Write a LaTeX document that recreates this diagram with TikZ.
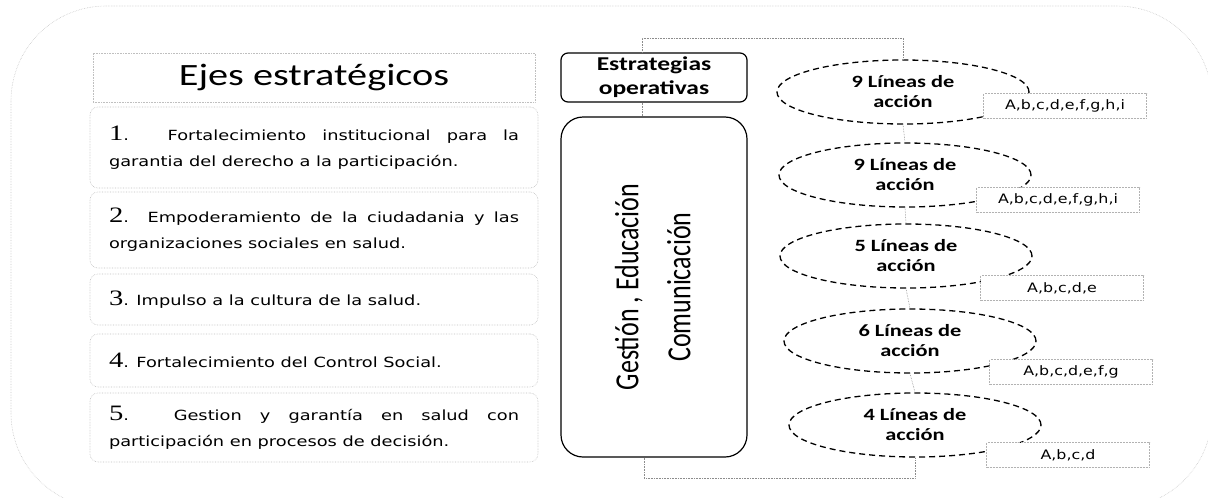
\documentclass[tikz,border=0pt]{standalone}
\usepackage{fontspec}
\usepackage{graphicx}
\usetikzlibrary{shapes.geometric}
\setlength{\parindent}{0pt}
\newfontfamily\calib[FakeStretch=1.3]{Carlito}
\newfontfamily\calibrot{Carlito}
\newfontfamily\ejefont[FakeStretch=1.27]{DejaVu Sans}
\newfontfamily\letrafont[FakeStretch=1.22]{DejaVu Sans}
\newfontfamily\numfont[FakeStretch=1.3]{Liberation Serif}
\newcommand{\ejenum}[1]{{\numfont\fontsize{22}{22}\selectfont #1}}

\begin{document}
\begin{tikzpicture}[x=1pt, y=-1pt,
    marco/.style={draw=black!22, densely dotted, line width=0.6pt, rounded corners=95pt},
    eje/.style={draw=black!25, densely dotted, line width=0.6pt, rounded corners=8pt, minimum width=448pt, text width=410pt, inner sep=0pt, align=justify, font=\ejefont\fontsize{14}{26}\selectfont},
    caja/.style={draw, line width=1.2pt, minimum width=186pt},
    linea/.style={ellipse, draw, line width=1.3pt, dash pattern=on 6pt off 4pt, minimum width=252pt, minimum height=64pt, inner sep=0pt, align=center, font=\calib\bfseries\fontsize{17.2}{20}\selectfont},
    letras/.style={draw=black!30, densely dotted, line width=0.5pt, fill=white, minimum width=163pt, minimum height=25pt, font=\letrafont\fontsize{13}{13}\selectfont},
    conector/.style={draw=black!45, densely dotted, line width=0.6pt}]
            \useasboundingbox (0,0) rectangle (1208,498);
            \clip (0,0) rectangle (1208,498);
            \draw[marco] (11,6) rectangle (1212,508);
            \node[draw=black!25, densely dotted, line width=0.6pt, minimum width=442pt, minimum height=49pt, font=\calib\fontsize{31}{31}\selectfont] (titulo) at (314,77.5) {Ejes estratégicos};
            \node[eje, minimum height=81pt] (eje1) at (314,147.5) {\ejenum{1}. Fortalecimiento institucional para la\linebreak garantia del derecho a la participación.};
            \node[eje, minimum height=76pt] (eje2) at (314,230) {\ejenum{2}. Empoderamiento de la ciudadania y las\linebreak organizaciones sociales en salud.};
            \node[eje, minimum height=51pt] (eje3) at (314,299.5) {\ejenum{3}. Impulso a la cultura de la salud.};
            \node[eje, minimum height=53pt] (eje4) at (314,360.5) {\ejenum{4}. Fortalecimiento del Control Social.};
            \node[eje, minimum height=69pt] (eje5) at (314,427.5) {\ejenum{5}. Gestion y garantía en salud con\linebreak participación en procesos de decisión.};
            \node[caja, rounded corners=7pt, minimum height=49pt, align=center, font=\calib\bfseries\fontsize{19.6}{24}\selectfont] (estr) at (654,77.5) {Estrategias\\operativas};
            \node[caja, rounded corners=22pt, minimum height=340pt, font=\calibrot\fontsize{26}{40}\selectfont] (gest) at (654,287) {\rotatebox{90}{\scalebox{1}[1.3]{\begin{tabular}{@{}c@{}}Gestión , Educación\\Comunicación\end{tabular}}}};
            \node[linea] (l1) at (903,92) {9 Líneas de\\acción};
            \node[linea] (l2) at (905,175) {9 Líneas de\\acción};
            \node[linea] (l3) at (906,256) {5 Líneas de\\acción};
            \node[linea] (l4) at (910,341) {6 Líneas de\\acción};
            \node[linea] (l5) at (915,425) {4 Líneas de\\acción};
            \coordinate (arriba) at (642,38);
            \coordinate (abajo) at (644,478);
            \draw[conector] (estr.north -| arriba) -- (arriba) -| (l1.north);
            \draw[conector] (estr.south -| arriba) -- (gest.north -| arriba);
            \draw[conector] (l1.south) -- (l2.north);
            \draw[conector] (l2.south) -- (l3.north);
            \draw[conector] (l3.south) -- (l4.north);
            \draw[conector] (l4.south) -- (l5.north);
            \draw[conector] (gest.south -| abajo) -- (abajo) -| (l5.south);
            \node[letras] (a1) at (1065,106) {A,b,c,d,e,f,g,h,i};
            \node[letras] (a2) at (1058,200) {A,b,c,d,e,f,g,h,i};
            \node[letras] (a3) at (1062,288) {A,b,c,d,e};
            \node[letras] (a4) at (1071,372) {A,b,c,d,e,f,g};
            \node[letras] (a5) at (1068,455) {A,b,c,d};
        \end{tikzpicture}
\end{document}
